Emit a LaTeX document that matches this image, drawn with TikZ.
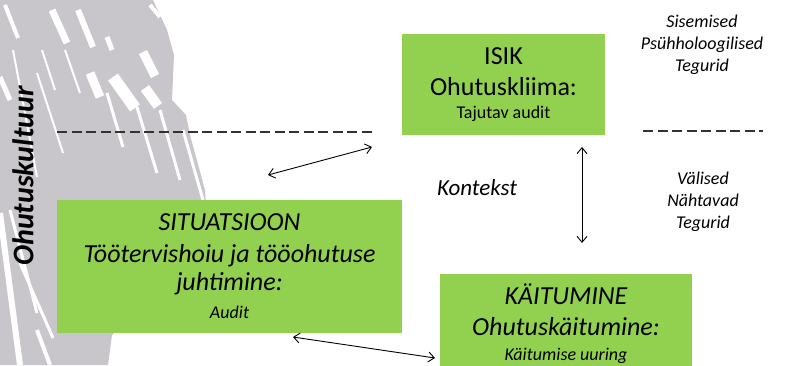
\documentclass[tikz,border=0pt]{standalone}
\usepackage{fontspec}
\setmainfont{Carlito}
\usetikzlibrary{arrows.meta}
\definecolor{boxgreen}{RGB}{146,208,80}
\definecolor{streakgray}{RGB}{200,198,202}
\definecolor{dashgray}{RGB}{50,50,50}

\begin{document}
\begin{tikzpicture}[x=1pt,y=-1pt]
    \tikzstyle{box}=[fill=boxgreen,inner sep=0pt,align=center,font=\fontsize{26}{31}\selectfont];
    \tikzstyle{note}=[align=center,font=\itshape\fontsize{18}{22}\selectfont];
    \tikzstyle{link}=[{Straight Barb[length=6pt,width=10pt]}-{Straight Barb[length=6pt,width=10pt]},line width=0.9pt];
    \tikzstyle{split}=[dashgray,line width=1.3pt,dash pattern=on 10pt off 4.5pt];

    \clip (0,0) rectangle (794,365);

    % grey texture on the left
    \fill[streakgray] (0,0) -- (153,0) -- (167,30) -- (174,55) -- (172,100)
    -- (186,115) -- (190,135) -- (205,190) -- (206,205) -- (150,300)
    -- (112,335) -- (108,365) -- (0,365) -- cycle;
    \foreach \xa/\ya/\xb/\yb/\w in {5/5/18/38/4, 13/50/37/177/2,
      52/10/67/43/7, 78/10/93/47/6, 42/50/55/90/2, 65/50/80/93/2,
      107/37/112/50/5, 90/73/100/97/9, 113/77/135/108/12, 143/52/155/76/9,
      145/88/158/106/10, 107/93/123/147/3, 137/107/157/173/3,
      160/110/180/180/3, 183/130/203/200/3, 37/73/63/153/2, 0/77/10/100/5,
      0/213/20/365/6, 10/210/37/313/3, 37/330/50/365/4, 20/263/53/338/3,
      150/5/160/17/4}
      \draw[white,line width=\w] (\xa,\ya) -- (\xb,\yb);

    \draw[split] (57,132) -- (375,132);
    \draw[split] (643,131) -- (763,131);

    \node (isik) [box,minimum width=203pt,minimum height=101pt] at (503.5,84.5)
    {ISIK\\Ohutuskliima:\\[-8pt]{\fontsize{18}{22}\selectfont Tajutav audit}};
    \node (situatsioon) [box,minimum width=345pt,minimum height=133pt] at (229.5,266.5)
    {\itshape SITUATSIOON\\[1pt]\itshape Töötervishoiu ja tööohutuse\\[-3pt]\itshape
    juhtimine:\\[-3pt]{\itshape\fontsize{18}{22}\selectfont Audit}};
    \node (kaitumine) [box,minimum width=252pt,minimum height=100pt] at (566,324)
    {\itshape KÄITUMINE\\\itshape Ohutuskäitumine:\\[-6pt]{\itshape\fontsize{18}{22}\selectfont
    Käitumise uuring}};

    \node (sisemised) [note] at (702,45) {Sisemised\\Psühholoogilised\\Tegurid};
    \node (valised) [note] at (703,202) {Välised\\Nähtavad\\Tegurid};
    \node (kontekst) [font=\itshape\fontsize{23}{28}\selectfont] at (477,188) {Kontekst};
    \node (kultuur) [rotate=90,font=\bfseries\itshape\fontsize{30}{36}\selectfont]
    at (23,176) {Ohutuskultuur};

    \coordinate (sit-top) at (268,175); \coordinate (isik-left) at (372,147);
    \coordinate (isik-low) at (582,147); \coordinate (kai-top) at (582,243);
    \coordinate (sit-low) at (293,337); \coordinate (kai-left) at (435,358);
    \path (sit-top) edge[link] (isik-left) (isik-low) edge[link] (kai-top)
    (sit-low) edge[link] (kai-left);
\end{tikzpicture}
\end{document}
